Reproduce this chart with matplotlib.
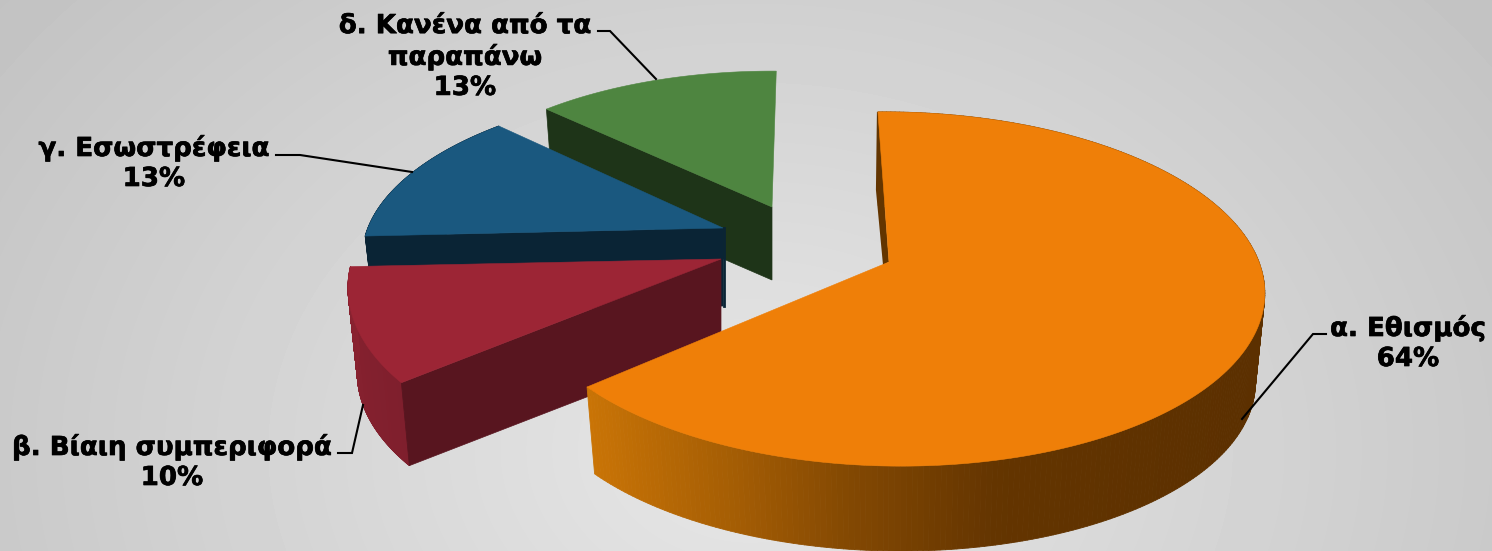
import numpy as np
import matplotlib
matplotlib.use("Agg")
import matplotlib.pyplot as plt
import matplotlib.patheffects as pe
from matplotlib.colors import to_rgb
from matplotlib.collections import PolyCollection
from matplotlib.patches import Polygon

# ---- data ----
categories = ["α. Εθισμός", "β. Βίαιη συμπεριφορά", "γ. Εσωστρέφεια", "δ. Κανένα από τα\nπαραπάνω"]
values = [64, 10, 13, 13]

# ---- style / layout ----
W, H = 1492, 551
START = -1.0
top_colors = ["#ef7f08", "#9c2535", "#1a587f", "#4e8540"]
edge_colors = ["#633500", "#58151f", "#0a2435", "#1e3418"]
rim_colors = [("#c97406", "#5c3000"), ("#7f1f2d", "#8a2230"), ("#0a2435", "#0a2435"), ("#1e3418", "#1e3418")]
geom = [  # apex x, apex y, A, B, k, x-shear, y-shear, x-offset, depth
    (889, 262, 368, 173, 0.1525, 0.05, 0.0, 2, 90),
    (721, 259, 366, 180, 0.15, -0.09, 0.019, 0, 86),
    (723, 228, 353, 161, 0.14, -0.15, 0.014, 0, 78),
    (772, 207, 343, 155, 0.14, -0.07, 0.012, 0, 73),
]
label_pos = [(1408, 343), (172, 462), (154, 163), (465, 57)]
leaders = [
    ([1326, 1313, 1242], [334, 334, 419]),
    ([338, 352, 363], [453, 453, 405]),
    ([276, 300, 412], [155, 155, 172]),
    ([598, 610, 656], [31, 31, 79]),
]

fig = plt.figure(figsize=(W / 100, H / 100), dpi=100)
ax = fig.add_axes([0, 0, 1, 1])
ax.set_xlim(0, W)
ax.set_ylim(H, 0)
ax.axis("off")

# background
yy, xx = np.mgrid[0:H, 0:W]
r = np.sqrt(((xx - 750) / 760) ** 2 + ((yy - 450) / 580) ** 2)
ax.imshow(np.clip(0.905 - 0.115 * r, 0, 1), cmap="gray", vmin=0, vmax=1,
          extent=[0, W, H, 0], aspect="auto", zorder=0)


def rim(g, theta):
    ax0, ay0, A, B, k, sh, shy, ox, _ = g
    t = np.radians(theta)
    s = 1 / (1 + k * np.cos(t))
    dy = -B * np.cos(t) * s
    dx = A * np.sin(t) * s + sh * dy + ox
    return ax0 + dx, ay0 + dy + shy * dx


def lower(g, px, py):
    ax0, ay0, *_, depth = g
    return ax0 + (px - ax0) * 0.975, ay0 + (py - ay0) * 0.975 + depth


angles = np.cumsum([0] + [v * 3.6 for v in values]) + START
z = 2
for i in [3, 2, 1, 0]:
    g = geom[i]
    th = np.linspace(angles[i], angles[i + 1], 300)
    x, y = rim(g, th)
    xb, yb = lower(g, x, y)
    # outer curved wall (the back slice shows none)
    if i != 3:
        c0, c1 = map(np.array, map(to_rgb, rim_colors[i]))
        quads, cols = [], []
        for j in range(len(th) - 1):
            quads.append([(x[j], y[j]), (x[j + 1], y[j + 1]), (xb[j + 1], yb[j + 1]), (xb[j], yb[j])])
            if i == 0:
                f = np.interp(x[j], [590, 750, 850, 1000, 1240], [0, 0.37, 0.64, 0.93, 1.0])
            else:
                f = (j + 0.5) / (len(th) - 1)
            cols.append(c0 + (c1 - c0) * f)
        ax.add_collection(PolyCollection(quads, facecolors=cols, edgecolors=cols, linewidths=0.6, zorder=z))
    # straight cut wall (start edge) facing the viewer
    if i > 0:
        ax0, ay0 = g[0], g[1]
        axb, ayb = lower(g, ax0, ay0)
        ax.add_patch(Polygon([(x[0], y[0]), (ax0, ay0), (axb, ayb), (xb[0], yb[0])],
                             fc=edge_colors[i], ec=edge_colors[i], lw=0.5, zorder=z + 0.1))
        if i == 2:
            ax.plot([ax0 + 1, axb + 1], [ay0, ayb], color=edge_colors[i], lw=2, zorder=z + 0.1)
    else:
        ax0, ay0 = g[0], g[1]
        ax.add_patch(Polygon([(x[0] - 1, y[0]), (x[0] - 2, y[0] + 78), (ax0 - 6, ay0 + 3), (ax0, ay0), (x[0], y[0])],
                             fc=edge_colors[i], ec="none", zorder=z + 0.1))
    # top face
    ax.add_patch(Polygon(np.column_stack([np.r_[g[0], x], np.r_[g[1], y]]),
                         fc=top_colors[i], ec=top_colors[i], lw=0.4, zorder=z + 0.2))
    z += 1

# leader lines
for lx, ly in leaders:
    ax.plot(lx, ly, color="black", lw=1.5, solid_joinstyle="miter", zorder=8)

# labels
for cat, v, (px, py) in zip(categories, values, label_pos):
    t = ax.text(px, py, f"{cat}\n{v}%", ha="center", va="center", ma="center",
                fontsize=18.8, fontweight="bold", family="DejaVu Sans",
                color="black", linespacing=1.2, zorder=9)
    t.set_path_effects([pe.withStroke(linewidth=0.5, foreground="black")])

fig.savefig("out.png", dpi=100)
